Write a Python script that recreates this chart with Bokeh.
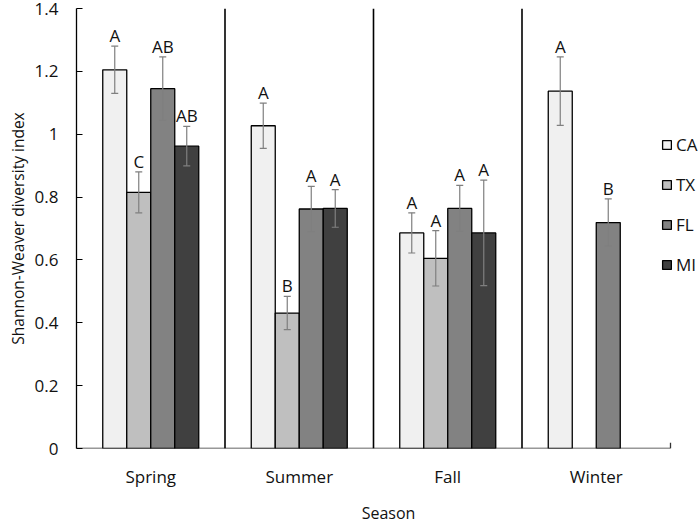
import math
from bokeh.plotting import figure
from bokeh.models import (ColumnDataSource, Range1d, FixedTicker, Legend, LegendItem)
from bokeh.embed import file_html
from bokeh.resources import INLINE

nan = float("nan")

seasons = ["Spring", "Summer", "Fall", "Winter"]
states = ["CA", "TX", "FL", "MI"]

ca_mean = [1.205, 1.027, 0.686, 1.137]
ca_se = [0.075, 0.072, 0.064, 0.109]
ca_letters = ["A", "A", "A", "A"]

tx_mean = [0.815, 0.431, 0.605, nan]
tx_se = [0.065, 0.053, 0.088, nan]
tx_letters = ["C", "B", "A", ""]

fl_mean = [1.145, 0.762, 0.764, 0.719]
fl_se = [0.101, 0.072, 0.073, 0.075]
fl_letters = ["AB", "A", "A", "B"]

mi_mean = [0.962, 0.764, 0.686, nan]
mi_se = [0.063, 0.060, 0.168, nan]
mi_letters = ["AB", "A", "A", ""]

y_ticks = [0, 0.2, 0.4, 0.6, 0.8, 1.0, 1.2, 1.4]
y_tick_labels = ["0", "0.2", "0.4", "0.6", "0.8", "1", "1.2", "1.4"]

colors = ["#f0f0f0", "#bfbfbf", "#828282", "#404040"]

means = [ca_mean, tx_mean, fl_mean, mi_mean]
ses = [ca_se, tx_se, fl_se, mi_se]
letters = [ca_letters, tx_letters, fl_letters, mi_letters]

FONT = "Open Sans"
n = len(seasons)
bar_w = 0.1616

p = figure(width=700, height=526, output_backend="svg", toolbar_location=None,
           x_range=Range1d(0, n * 624 / 594), y_range=Range1d(0, 1.4),
           min_border_left=76, min_border_right=0, min_border_top=8, min_border_bottom=77,
           styles={"margin": "0px"})
p.outline_line_color = None
p.xgrid.visible = False
p.ygrid.visible = False
p.background_fill_color = "white"
p.border_fill_color = "white"

# y axis
p.yaxis.ticker = FixedTicker(ticks=y_ticks)
p.yaxis.major_label_overrides = {t: l for t, l in zip(y_ticks, y_tick_labels)}
p.yaxis.major_tick_in = 6
p.yaxis.major_tick_out = 0
p.yaxis.minor_tick_line_color = None
p.yaxis.axis_line_color = "black"
p.yaxis.axis_line_width = 1.3
p.yaxis.major_tick_line_color = "black"
p.yaxis.major_label_text_font = FONT
p.yaxis.major_label_text_font_size = "17px"
p.yaxis.major_label_text_color = "#111111"
p.yaxis.major_label_standoff = 18
p.yaxis.axis_label = "Shannon-Weaver diversity index"
p.yaxis.axis_label_text_font = FONT
p.yaxis.axis_label_text_font_size = "15.5px"
p.yaxis.axis_label_text_font_style = "normal"
p.yaxis.axis_label_text_color = "#111111"
p.yaxis.axis_label_standoff = 3

# x axis
centers = [i + 0.5 for i in range(n)]
p.xaxis.ticker = FixedTicker(ticks=centers)
p.xaxis.major_label_overrides = {c: s for c, s in zip(centers, seasons)}
p.xaxis.axis_line_color = None
p.xaxis.major_tick_line_color = None
p.xaxis.major_tick_in = 0
p.xaxis.major_tick_out = 0
p.xaxis.minor_tick_line_color = None
p.xaxis.minor_tick_in = 0
p.xaxis.minor_tick_out = 0
p.xaxis.major_label_text_font = FONT
p.xaxis.major_label_text_font_size = "17px"
p.xaxis.major_label_text_color = "#111111"
p.xaxis.major_label_standoff = 16
p.xaxis.axis_label = "Season"
p.xaxis.axis_label_text_font = FONT
p.xaxis.axis_label_text_font_size = "16px"
p.xaxis.axis_label_text_font_style = "normal"
p.xaxis.axis_label_text_color = "#111111"
p.xaxis.axis_label_standoff = 11

# x axis line and separators
p.segment(x0=[0], y0=[0], x1=[n], y1=[0], line_color="#333333", line_width=1.3)
p.segment(x0=list(range(1, n)), y0=[0] * (n - 1), x1=list(range(1, n)), y1=[1.4] * (n - 1),
          line_color="black", line_width=1.6)
p.segment(x0=[n], y0=[0], x1=[n], y1=[0.018], line_color="#333333", line_width=1.3)

items = []
for k, st in enumerate(states):
    off = (k - 1.5) * bar_w
    xs = [i + 0.5 + off for i in range(n)]
    m = means[k]
    e = ses[k]
    lo = [a - b for a, b in zip(m, e)]
    hi = [a + b for a, b in zip(m, e)]
    src = ColumnDataSource(dict(x=xs, top=m, lo=lo, hi=hi, lab=letters[k]))
    r = p.vbar(x="x", top="top", width=bar_w, source=src, fill_color=colors[k],
               line_color="black", line_width=1.3)
    items.append(LegendItem(label=st, renderers=[r]))
    p.segment(x0="x", y0="lo", x1="x", y1="hi", source=src, line_color="#7f7f7f", line_width=1.2)
    p.scatter(x="x", y="hi", source=src, marker="dash", size=7, line_color="#7f7f7f", line_width=1.2)
    p.scatter(x="x", y="lo", source=src, marker="dash", size=7, line_color="#7f7f7f", line_width=1.2)
    p.text(x="x", y="hi", text="lab", source=src, text_align="center", text_baseline="bottom",
           y_offset=1, text_font={"value": FONT}, text_font_size="17px", text_color="#111111")

legend = Legend(items=items, location=(585, 172), orientation="vertical",
                glyph_width=11, glyph_height=11, label_height=20, spacing=17,
                label_standoff=4, padding=0, margin=0, border_line_color=None,
                background_fill_alpha=0, label_text_font=FONT, label_text_font_size="17px",
                label_text_color="#111111")
p.add_layout(legend)

open("out.html", "w").write(file_html(p, INLINE))
